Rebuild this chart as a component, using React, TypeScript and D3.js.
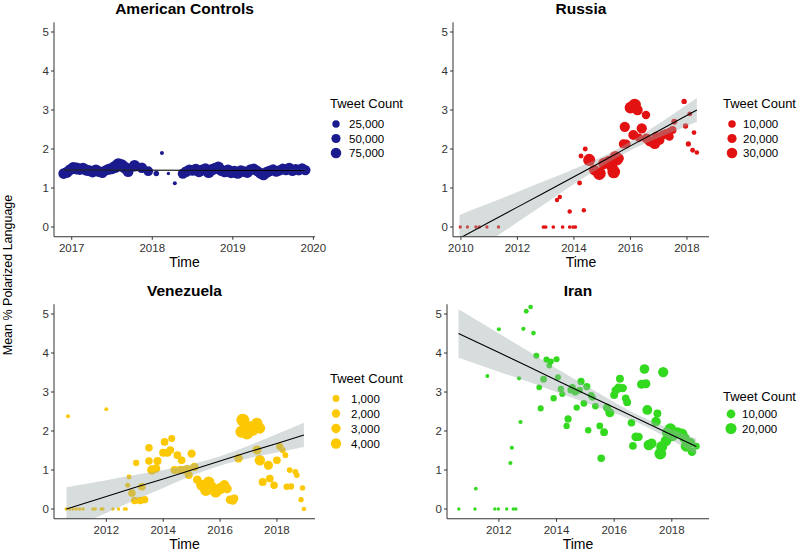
import React from "react";
import * as d3 from "d3";

// ---- American Controls ----
const amerTime = [
  2016.9, 2016.94, 2016.98, 2017.02, 2017.06, 2017.1, 2017.14, 2017.18, 2017.22, 2017.26, 2017.3, 2017.34,
  2017.38, 2017.42, 2017.46, 2017.5, 2017.54, 2017.58, 2017.62, 2017.66, 2017.7, 2017.78, 2017.87, 2017.95,
  2018.05, 2018.12, 2018.2, 2018.28,
  2018.38, 2018.42, 2018.46, 2018.5, 2018.54, 2018.58, 2018.62, 2018.66, 2018.7, 2018.74, 2018.78, 2018.82,
  2018.86, 2018.9, 2018.94, 2018.98, 2019.02, 2019.06, 2019.1, 2019.14, 2019.18, 2019.22, 2019.26, 2019.3,
  2019.34, 2019.38, 2019.42, 2019.46, 2019.5, 2019.54, 2019.58, 2019.62, 2019.66, 2019.7, 2019.74, 2019.78,
  2019.82, 2019.86, 2019.9,
];
const amerScore = [
  1.37, 1.4, 1.47, 1.52, 1.5, 1.48, 1.5, 1.46, 1.44, 1.41, 1.46, 1.42, 1.39, 1.45, 1.48, 1.5, 1.54, 1.6, 1.58,
  1.52, 1.42, 1.57, 1.52, 1.43,
  1.37, 1.9, 1.37, 1.12,
  1.37, 1.42, 1.47, 1.45, 1.48, 1.42, 1.46, 1.49, 1.4, 1.47, 1.5, 1.53, 1.45, 1.42, 1.46, 1.4, 1.43, 1.38, 1.44,
  1.42, 1.4, 1.47, 1.49, 1.44, 1.38, 1.34, 1.4, 1.44, 1.47, 1.42, 1.45, 1.49, 1.46, 1.51, 1.44, 1.48, 1.46, 1.5,
  1.46,
];
const amerCount = [
  78000, 90000, 87000, 99000, 105000, 93000, 96000, 90000, 87000, 82000, 93000, 85000, 75000, 72000, 90000,
  98000, 117000, 130000, 120000, 105000, 82000, 102000, 78000, 60000,
  9000, 3000, 2500, 3000,
  72000, 82000, 75000, 78000, 90000, 93000, 84000, 87000, 96000, 90000, 99000, 102000, 93000, 96000, 90000,
  99000, 87000, 93000, 90000, 81000, 87000, 82000, 78000, 75000, 84000, 90000, 87000, 82000, 78000, 75000,
  72000, 78000, 75000, 81000, 75000, 72000, 78000, 75000, 72000,
];
const amerFitTime = [2016.9, 2018.4, 2019.9];
const amerFitMid = [1.46, 1.455, 1.45];
const amerFitLow = [1.44, 1.44, 1.43];
const amerFitHigh = [1.48, 1.47, 1.47];

// ---- Russia ----
const rusTime = [
  2009.98, 2010.23, 2010.53, 2010.65, 2010.92, 2011.33, 2012.92, 2013.0, 2013.27, 2013.6, 2013.85, 2013.97,
  2014.05, 2013.4, 2013.5, 2013.85, 2014.35, 2014.2, 2014.25, 2014.4, 2014.54, 2014.72, 2014.9, 2015.06,
  2015.24, 2015.35, 2015.47, 2015.53, 2015.41, 2015.58, 2015.75, 2015.85, 2015.8, 2016.0, 2016.15, 2016.25,
  2016.1, 2016.3, 2016.55, 2016.4, 2016.57, 2016.68, 2016.86, 2016.91, 2017.03, 2017.14, 2017.26, 2017.38,
  2017.49, 2017.38, 2017.55, 2017.9, 2017.95, 2018.05, 2018.1, 2018.2, 2018.25, 2018.35,
];
const rusScore = [
  0, 0, 0, 0, 0, 0, 0, 0, 0, 0, 0, 0, 0, 0.69, 0.77, 0.4, 0.43, 1.13, 1.82, 2.0, 1.72, 1.46, 1.37, 1.63, 1.67,
  1.54, 1.8, 1.72, 1.41, 1.76, 2.13, 2.13, 2.57, 3.06, 3.13, 3.0, 2.36, 2.29, 2.87, 2.53, 2.27, 2.19, 2.14,
  2.32, 2.23, 2.36, 2.4, 2.44, 2.49, 2.32, 2.7, 3.22, 2.59, 2.13, 2.9, 1.97, 2.42, 1.91,
];
const rusCount = [
  150, 150, 150, 150, 150, 150, 200, 200, 200, 200, 200, 200, 200, 800, 800, 800, 800, 1500, 1500, 1500,
  45000, 30000, 52000, 38000, 48000, 35000, 42000, 32000, 50000, 30000,
  20000, 18000, 28000, 40000, 48000, 30000, 25000, 15000, 15000, 28000,
  26000, 24000, 34000, 22000, 24000, 20000, 17000, 14000, 12000, 16000,
  4000, 2500, 2500, 2000, 1500, 1500, 1200, 1000,
];
const rusFitTime = [2009.95, 2011, 2012, 2013, 2014, 2015, 2016, 2017, 2018.35];
const rusFitMid = [-0.29, 0.12, 0.51, 0.9, 1.29, 1.68, 2.08, 2.47, 3.0];
const rusFitLow = [-0.89, -0.37, 0.12, 0.61, 1.1, 1.56, 1.97, 2.29, 2.7];
const rusFitHigh = [0.31, 0.61, 0.9, 1.19, 1.49, 1.8, 2.19, 2.65, 3.31];

// ---- Venezuela ----
const venTime = [
  2010.65, 2010.59, 2010.71, 2010.83, 2010.94, 2011.06, 2011.18, 2011.53, 2011.61, 2011.82, 2011.88, 2012.23,
  2012.43, 2012.64, 2012.7, 2012.0, 2012.75, 2012.8, 2012.9, 2013.0, 2013.05, 2013.2, 2013.35, 2013.25,
  2013.5, 2013.5, 2013.6, 2013.75, 2013.8, 2014.0, 2014.05, 2014.15, 2014.25, 2014.3, 2014.4, 2014.5, 2014.6,
  2014.65, 2014.75, 2014.85, 2014.9, 2015.0, 2015.1, 2015.2, 2015.35, 2015.5, 2015.6, 2015.7, 2015.85, 2016.0,
  2016.15, 2016.25, 2016.35, 2016.45, 2016.5, 2016.65, 2016.8, 2016.85, 2016.75, 2016.95, 2017.05, 2017.15,
  2017.3, 2017.4, 2017.3, 2017.4, 2017.7, 2017.5, 2017.75, 2017.9, 2018.0, 2018.1, 2018.2, 2018.3, 2018.35,
  2018.5, 2018.45, 2018.65, 2018.7, 2018.85, 2018.9, 2018.95,
];
const venScore = [
  2.38, 0, 0, 0, 0, 0, 0, 0, 0, 0, 0, 0, 0, 0, 0, 2.56, 0.61, 0.82, 0.41, 0.22, 1.18, 0.22, 0.24, 0.57, 1.57,
  1.23, 1.0, 1.04, 1.23, 1.44, 1.72, 1.44, 1.51, 1.81, 1.0, 1.38, 1.0, 1.25, 1.0, 1.02, 0.87, 1.42, 1.08, 0.75,
  0.61, 0.48, 0.69, 0.57, 0.44, 0.52, 0.61, 0.52, 0.24, 0.22, 0.27, 1.3, 2.28, 2.02, 1.98, 1.94, 2.11, 2.02,
  2.2, 2.07, 1.51, 1.25, 1.12, 0.69, 0.78, 0.61, 1.25, 1.6, 1.51, 1.38, 0.57, 0.58, 1.0, 0.95, 0.87, 0.24,
  0.54, 0,
];
const venCount = [
  60, 40, 40, 40, 40, 40, 40, 40, 40, 40, 40, 40, 40, 40, 40, 60, 250, 250, 1500, 1500, 700, 1500, 1200, 1500,
  1500, 1500, 3000, 2200, 1800, 1800, 1600, 1800, 1600, 1100, 1800, 1600, 2000,
  1600, 2000, 2000, 1800, 2000, 2200, 2400, 4500, 5500, 5200, 4800, 5500, 5200,
  4000, 2800, 2200, 2400, 1800, 2200, 7400, 7000, 6000, 6500, 5500, 5000,
  5000, 4500, 2800, 4000, 2800, 1800, 1600, 1500, 1600, 1200, 700, 500, 900,
  700, 500, 500, 500, 350, 350, 150,
];
const venFitTime = [2010.6, 2012, 2013, 2014, 2015, 2016, 2017, 2018, 2018.95];
const venFitMid = [0, 0.32, 0.55, 0.77, 1.0, 1.23, 1.46, 1.68, 1.9];
const venFitLow = [-0.56, -0.1, 0.23, 0.54, 0.85, 1.11, 1.3, 1.45, 1.59];
const venFitHigh = [0.56, 0.74, 0.87, 1.0, 1.15, 1.35, 1.62, 1.92, 2.21];

// ---- Iran ----
const iranTime = [
  2010.61, 2011.17, 2011.86, 2011.98, 2012.27, 2012.5, 2012.59, 2011.2, 2011.6, 2012.0, 2012.4, 2012.45,
  2012.7, 2012.75, 2012.85, 2012.95, 2013.1, 2013.2, 2013.3, 2013.4, 2013.45, 2013.55, 2013.65, 2013.8,
  2013.75, 2013.9, 2014.0, 2014.05, 2014.15, 2014.2, 2014.35, 2014.4, 2014.5, 2014.55, 2014.65, 2014.7,
  2014.8, 2014.85, 2014.95, 2015.05, 2015.1, 2015.2, 2015.25, 2015.35, 2015.5, 2015.55, 2015.65, 2015.75,
  2015.85, 2016.0, 2016.05, 2016.15, 2016.3, 2016.2, 2016.4, 2016.45, 2016.6, 2016.65, 2016.75, 2016.85,
  2016.95, 2017.05, 2017.1, 2017.15, 2017.2, 2017.3, 2017.45, 2017.5, 2017.6, 2017.65, 2017.7, 2017.8,
  2017.85, 2017.95, 2018.0, 2018.1, 2018.2, 2018.35, 2018.45, 2018.5, 2018.65, 2018.7, 2018.85,
];
const iranScore = [
  0, 0, 0, 0, 0, 0, 0, 0.52, 3.41, 4.61, 1.18, 1.57, 3.35, 2.23, 4.62, 5.07, 5.18, 4.51, 3.93, 3.12, 2.58,
  3.33, 3.83, 3.78, 3.68, 2.84, 3.84, 3.38, 3.08, 2.95, 2.13, 2.31, 3.05, 3.12, 3.0, 2.6, 3.05, 3.27, 2.71,
  3.14, 2.02, 2.91, 2.86, 2.64, 2.13, 1.3, 1.97, 2.6, 2.47, 2.92, 3.04, 3.1, 3.1, 3.34, 2.84, 2.74, 2.21, 1.62,
  1.85, 1.85, 3.2, 3.59, 3.21, 2.54, 1.64, 1.68, 2.24, 2.45, 1.42, 1.6, 3.51, 1.75, 1.96, 2.04, 1.9, 1.94,
  1.96, 1.92, 1.81, 1.61, 1.7, 1.47, 1.61,
];
const iranCount = [
  50, 50, 50, 50, 50, 50, 50, 80, 150, 200, 200, 250,
  250, 250, 300, 800, 600, 600, 2500, 2000, 2500, 4000, 2500, 2500,
  2000, 3000, 2500, 2500, 3000, 2500, 3000, 5000, 4500, 4000, 4500, 3000,
  4000, 5000, 4000, 5000, 3000, 4000, 3000, 4000, 4000, 6000, 6500, 8000,
  11000, 7000, 8000, 11000, 8000, 7000, 6000, 7000, 6000, 6500, 10000, 8000,
  11000, 13000, 11000, 14000, 17000, 14000, 13000, 7000, 24000, 20000, 16000, 18000,
  20000, 26000, 30000, 24000, 17000, 20000, 17000, 20000, 12000, 9000, 4000,
];
const iranFitTime = [2010.6, 2012, 2013, 2014, 2015, 2016, 2017, 2018, 2018.85];
const iranFitMid = [4.5, 4.01, 3.66, 3.3, 2.95, 2.6, 2.25, 1.9, 1.6];
const iranFitLow = [3.88, 3.52, 3.27, 3.0, 2.73, 2.46, 2.15, 1.76, 1.4];
const iranFitHigh = [5.12, 4.5, 4.06, 3.6, 3.17, 2.74, 2.35, 2.04, 1.8];

const scoreTicks = [0, 1, 2, 3, 4, 5];
const FONT = "'Liberation Sans', Arial, sans-serif";
const R_MIN = 1.7;
const R_MAX = 6.4;

type PanelProps = {
  id: string;
  title: string;
  color: string;
  times: number[];
  scores: number[];
  counts: number[];
  fitTime: number[];
  fitMid: number[];
  fitLow: number[];
  fitHigh: number[];
  xDomain: [number, number];
  xTicks: number[];
  left: number;
  right: number;
  top: number;
  bottom: number;
  breaks: number[];
  legend: { tx: number; ty: number; cx: number; cy: number; step: number; lx: number };
};

function Panel(p: PanelProps) {
  const x = d3.scaleLinear().domain(p.xDomain).range([p.left, p.right]);
  const y = d3.scaleLinear().domain([-0.25, 5.25]).range([p.bottom, p.top]);
  const [cMin, cMax] = d3.extent(p.counts) as [number, number];
  const t = d3.scaleLinear().domain([cMin, cMax]).range([0, 1]).clamp(true);
  const r = (c: number) => R_MIN + Math.sqrt(t(c)) * (R_MAX - R_MIN);

  const band = d3
    .area<number>()
    .x((_, i) => x(p.fitTime[i]))
    .y0((_, i) => y(p.fitLow[i]))
    .y1((_, i) => y(p.fitHigh[i]))
    .curve(d3.curveMonotoneX);
  const line = d3
    .line<number>()
    .x((_, i) => x(p.fitTime[i]))
    .y((d) => y(d));

  const cx = (p.left + p.right) / 2;
  const fmt = d3.format(",");

  return (
    <g>
      <defs>
        <clipPath id={"clip-" + p.id}>
          <rect x={p.left} y={p.top} width={p.right - p.left} height={p.bottom - p.top} />
        </clipPath>
      </defs>
      <text x={cx} y={p.top - 8.5} textAnchor="middle" fontSize={15.5} fontWeight="bold" fill="#000">
        {p.title}
      </text>
      {p.times.map((tm, i) => (
        <circle key={i} cx={x(tm)} cy={y(p.scores[i])} r={r(p.counts[i])} fill={p.color} />
      ))}
      <g clipPath={`url(#clip-${p.id})`}>
        <path d={band(p.fitMid) ?? ""} fill="#9aabab" fillOpacity={0.4} />
        <path d={line(p.fitMid) ?? ""} fill="none" stroke="#000" strokeWidth={1.1} />
      </g>
      {/* axes */}
      <line x1={p.left} x2={p.left} y1={p.top} y2={p.bottom} stroke="#333" strokeWidth={1} />
      <line x1={p.left} x2={p.right} y1={p.bottom} y2={p.bottom} stroke="#333" strokeWidth={1} />
      {scoreTicks.map((v) => (
        <g key={"y" + v}>
          <line x1={p.left - 3} x2={p.left} y1={y(v)} y2={y(v)} stroke="#333" />
          <text x={p.left - 5} y={y(v)} dy="0.36em" textAnchor="end" fontSize={11.5} fill="#333">
            {v}
          </text>
        </g>
      ))}
      {p.xTicks.map((v) => (
        <g key={"x" + v}>
          <line x1={x(v)} x2={x(v)} y1={p.bottom} y2={p.bottom + 3} stroke="#333" />
          <text x={x(v)} y={p.bottom + 15} textAnchor="middle" fontSize={11.5} fill="#333">
            {v}
          </text>
        </g>
      ))}
      <text x={cx} y={p.bottom + 30} textAnchor="middle" fontSize={14} fill="#000">
        Time
      </text>
      {/* size legend */}
      <text x={p.legend.tx} y={p.legend.ty} fontSize={13} fill="#000">
        Tweet Count
      </text>
      {p.breaks.map((b, i) => (
        <g key={"l" + b}>
          <circle cx={p.legend.cx} cy={p.legend.cy + i * p.legend.step} r={r(b)} fill={p.color} />
          <text
            x={p.legend.lx}
            y={p.legend.cy + i * p.legend.step}
            dy="0.36em"
            fontSize={11.5}
            fill="#000"
          >
            {fmt(b)}
          </text>
        </g>
      ))}
    </g>
  );
}

export default function App() {
  const topRow = { top: 22.25, bottom: 236.75 };
  const botRow = { top: 304.25, bottom: 518.75 };
  return (
    <svg width={799} height={551} style={{ display: "block", position: "absolute", left: 0, top: 0 }} fontFamily={FONT}>
      <rect width={799} height={551} fill="#fff" />
      <text
        transform="translate(12,275) rotate(-90)"
        textAnchor="middle"
        fontSize={12.5}
        fill="#000"
      >
        Mean % Polarized Language
      </text>
      <Panel
        id="amer"
        title="American Controls"
        color="#1b1b8f"
        times={amerTime}
        scores={amerScore}
        counts={amerCount}
        fitTime={amerFitTime}
        fitMid={amerFitMid}
        fitLow={amerFitLow}
        fitHigh={amerFitHigh}
        xDomain={[2016.78, 2020.02]}
        xTicks={[2017, 2018, 2019, 2020]}
        left={54}
        right={315}
        {...topRow}
        breaks={[25000, 50000, 75000]}
        legend={{ tx: 330, ty: 108, cx: 336, cy: 124, step: 14.5, lx: 349 }}
      />
      <Panel
        id="rus"
        title="Russia"
        color="#e31212"
        times={rusTime}
        scores={rusScore}
        counts={rusCount}
        fitTime={rusFitTime}
        fitMid={rusFitMid}
        fitLow={rusFitLow}
        fitHigh={rusFitHigh}
        xDomain={[2009.72, 2018.78]}
        xTicks={[2010, 2012, 2014, 2016, 2018]}
        left={453}
        right={709}
        {...topRow}
        breaks={[10000, 20000, 30000]}
        legend={{ tx: 723, ty: 108, cx: 732, cy: 124, step: 14.5, lx: 743 }}
      />
      <Panel
        id="ven"
        title="Venezuela"
        color="#fcc803"
        times={venTime}
        scores={venScore}
        counts={venCount}
        fitTime={venFitTime}
        fitMid={venFitMid}
        fitLow={venFitLow}
        fitHigh={venFitHigh}
        xDomain={[2010.16, 2019.34]}
        xTicks={[2012, 2014, 2016, 2018]}
        left={54}
        right={315}
        {...botRow}
        breaks={[1000, 2000, 3000, 4000]}
        legend={{ tx: 330, ty: 383, cx: 336, cy: 398.5, step: 15, lx: 351 }}
      />
      <Panel
        id="iran"
        title="Iran"
        color="#33d91f"
        times={iranTime}
        scores={iranScore}
        counts={iranCount}
        fitTime={iranFitTime}
        fitMid={iranFitMid}
        fitLow={iranFitLow}
        fitHigh={iranFitHigh}
        xDomain={[2010.2, 2019.29]}
        xTicks={[2012, 2014, 2016, 2018]}
        left={447}
        right={709}
        {...botRow}
        breaks={[10000, 20000]}
        legend={{ tx: 723, ty: 401, cx: 731, cy: 414, step: 14.5, lx: 742 }}
      />
    </svg>
  );
}
